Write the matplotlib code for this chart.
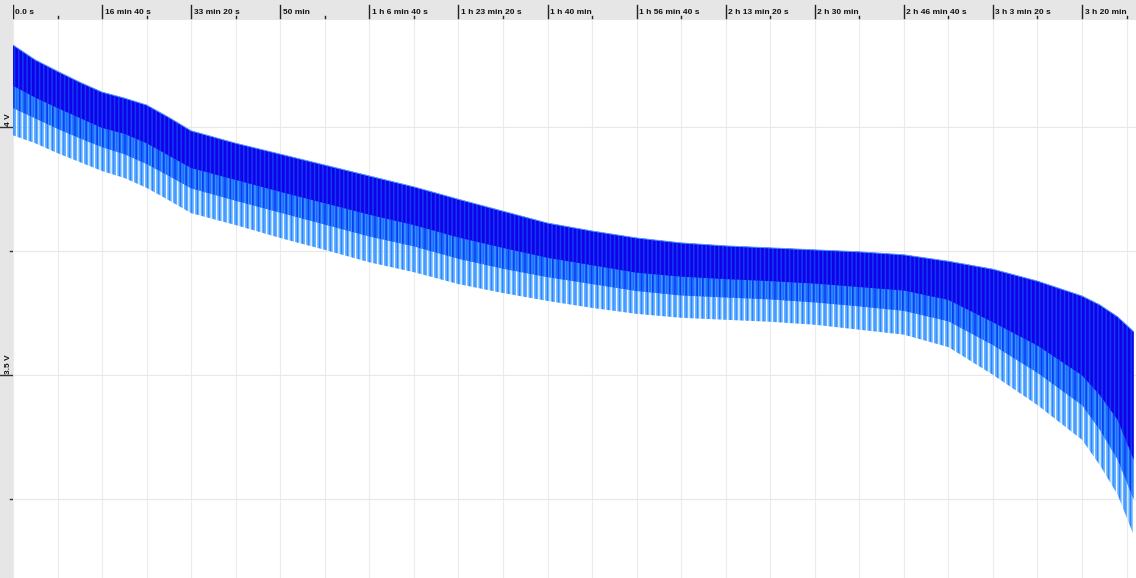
import matplotlib
matplotlib.use("Agg")
import matplotlib.pyplot as plt

# tiempos (s) donde se leyeron las envolventes
t = [0, 250, 500, 750, 1000, 1250, 1500, 1750, 2000, 2500, 3000, 3500, 4000, 4500,
     5000, 5500, 6000, 6500, 7000, 7500, 8000, 8500, 9000, 9500, 10000, 10500,
     11000, 11500, 12000, 12200, 12400, 12580]

# envolvente superior (tensión en reposo)
v_top = [4.166, 4.136, 4.113, 4.091, 4.071, 4.059, 4.045, 4.020, 3.993, 3.968, 3.946,
         3.924, 3.902, 3.880, 3.855, 3.831, 3.807, 3.791, 3.777, 3.767, 3.761, 3.757,
         3.753, 3.749, 3.743, 3.730, 3.714, 3.690, 3.660, 3.642, 3.618, 3.588]
# fondo de la zona azul oscuro
v_dark = [4.084, 4.060, 4.039, 4.019, 3.999, 3.987, 3.968, 3.943, 3.918, 3.894, 3.870,
          3.847, 3.824, 3.803, 3.778, 3.757, 3.737, 3.722, 3.707, 3.699, 3.694, 3.690,
          3.685, 3.678, 3.671, 3.652, 3.607, 3.560, 3.500, 3.460, 3.410, 3.330]
# fondo de la zona azul medio
v_mid = [4.039, 4.018, 3.997, 3.978, 3.960, 3.946, 3.926, 3.902, 3.877, 3.852, 3.828,
         3.804, 3.780, 3.760, 3.735, 3.715, 3.698, 3.684, 3.670, 3.661, 3.657, 3.653,
         3.647, 3.639, 3.630, 3.609, 3.561, 3.505, 3.440, 3.390, 3.330, 3.250]
# puntas de los picos (azul claro)
v_low = [3.984, 3.968, 3.948, 3.930, 3.912, 3.898, 3.878, 3.853, 3.827, 3.803, 3.777,
         3.753, 3.728, 3.708, 3.684, 3.666, 3.650, 3.636, 3.624, 3.616, 3.612, 3.608,
         3.602, 3.592, 3.582, 3.557, 3.501, 3.440, 3.370, 3.319, 3.259, 3.178]

x_ticks = [0, 1000, 2000, 3000, 4000, 5000, 6000, 7000, 8000, 9000, 10000, 11000, 12000]
x_labels = ['0.0 s', '16 min 40 s', '33 min 20 s', '50 min', '1 h 6 min 40 s',
            '1 h 23 min 20 s', '1 h 40 min', '1 h 56 min 40 s', '2 h 13 min 20 s',
            '2 h 30 min', '2 h 46 min 40 s', '3 h 3 min 20 s', '3 h 20 min']
y_ticks = [4.0, 3.5]
y_labels = ['4 V', '3.5 V']
y_minor = [3.75, 3.25]

GRAY = '#e6e6e6'
W, H = 1136, 578
LEFT, TOP = 13, 20

plt.rcParams['font.family'] = ['Liberation Sans', 'DejaVu Sans']
plt.rcParams['hatch.linewidth'] = 1.1

fig = plt.figure(figsize=(W / 100, H / 100), dpi=100, facecolor=GRAY)
ax = fig.add_axes([LEFT / W, 0, (W - LEFT) / W, (H - TOP) / H])
ax_top = fig.add_axes([LEFT / W, (H - TOP) / H, (W - LEFT) / W, TOP / H], sharex=ax)
ax_left = fig.add_axes([0, 0, LEFT / W, (H - TOP) / H], sharey=ax)

ax.set_xlim(0, 12606)
ax.set_ylim(3.0913, 4.2165)

# rejilla
for xv in range(0, 12606, 500):
    ax.axvline(xv, color='#ececec', lw=0.8, zorder=0)
for yv in [3.25, 3.5, 3.75, 4.0]:
    ax.axhline(yv, color='#e8e8e8', lw=0.8, zorder=0)

# picos de descarga: capas rayadas de claro a oscuro
ax.fill_between(t, v_low, v_top, facecolor='none', edgecolor='#62b2ff',
                hatch='||||||', linewidth=0, zorder=1)
ax.fill_between(t, v_low, v_mid, facecolor='none', edgecolor='#2a85ff',
                hatch='|||', linewidth=0, zorder=2)
ax.fill_between(t, v_mid, v_top, facecolor='#1a6cff', edgecolor='#3d95ff',
                hatch='|||||', linewidth=0, zorder=3)
ax.fill_between(t, v_mid, v_dark, facecolor='none', edgecolor='#0a3af2',
                hatch='|||', linewidth=0, zorder=4)
ax.fill_between(t, v_dark, v_top, facecolor='#1400e8', edgecolor='#0b3cf5',
                hatch='||||', linewidth=0, zorder=5)
ax.plot(t, v_top, color='#5a9cff', lw=0.7, zorder=6)

for s in ax.spines.values():
    s.set_visible(False)
ax.set_xticks([])
ax.set_yticks([])

# barra superior
ax_top.set_facecolor(GRAY)
ax_top.set_ylim(0, 1)
for s in ax_top.spines.values():
    s.set_visible(False)
ax_top.set_xticks([])
ax_top.set_yticks([])
for xv, lab in zip(x_ticks, x_labels):
    ax_top.axvline(xv, ymin=0.1, ymax=0.75, color='#222222', lw=1.0)
    ax_top.text(xv + 28, 0.38, lab, fontsize=6, fontweight='bold', color='#111111',
                va='center', ha='left')
    ax_top.axvline(xv + 500, ymin=0.1, ymax=0.22, color='#222222', lw=1.0)

# barra izquierda
ax_left.set_facecolor(GRAY)
ax_left.set_xlim(0, 1)
for s in ax_left.spines.values():
    s.set_visible(False)
ax_left.set_xticks([])
ax_left.tick_params(left=False, labelleft=False)
for yv, lab in zip(y_ticks, y_labels):
    ax_left.axhline(yv, xmin=0, xmax=1, color='#333333', lw=1.0)
    ax_left.text(0.62, yv + 0.003, lab, fontsize=6, fontweight='bold', rotation=90,
                 color='#111111', ha='center', va='bottom')
for yv in y_minor:
    ax_left.axhline(yv, xmin=0.75, xmax=1, color='#333333', lw=1.0)

fig.savefig('out.png', dpi=100, facecolor=GRAY)
